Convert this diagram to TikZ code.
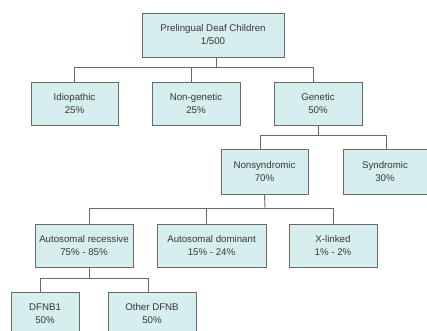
\documentclass[tikz,border=0pt]{standalone}
\usepackage{fontspec}
\setmainfont{Liberation Sans}
\definecolor{boxfill}{RGB}{214,238,238}
\definecolor{boxline}{RGB}{105,105,105}
\definecolor{txt}{RGB}{55,55,55}
\begin{document}
\begin{tikzpicture}[x=1pt,y=-1pt,
  box/.style={draw=boxline, line width=0.9pt, fill=boxfill, inner sep=0pt, align=center,
    text=txt, font=\fontsize{9.7}{13}\selectfont, minimum height=43pt},
  conn/.style={draw=boxline, line width=0.9pt}]
\useasboundingbox (0,0) rectangle (427,330);
\clip (0,0) rectangle (427,330);
% nodes
\node[box, minimum width=142pt, minimum height=44pt] (top) at (213,35) {Prelingual Deaf Children\\1/500};
\node[box, minimum width=87pt] (idio) at (74.5,103.5) {Idiopathic\\25\%};
\node[box, minimum width=88pt] (nongen) at (196,103.5) {Non-genetic\\25\%};
\node[box, minimum width=88pt] (gen) at (318,103.5) {Genetic\\50\%};
\node[box, minimum width=87pt, minimum height=45pt] (nonsyn) at (264.5,171.5) {Nonsyndromic\\70\%};
\node[box, minimum width=84pt, minimum height=45pt] (syn) at (385,171.5) {Syndromic\\30\%};
\node[box, minimum width=98pt] (ar) at (84,245.5) {Autosomal recessive\\75\% - 85\%};
\node[box, minimum width=109pt] (ad) at (211.5,245.5) {Autosomal dominant\\15\% - 24\%};
\node[box, minimum width=88pt] (xl) at (333,245.5) {X-linked\\1\% - 2\%};
\node[box, minimum width=68pt] (dfnb1) at (45,313.5) {DFNB1\\50\%};
\node[box, minimum width=88pt] (other) at (152,313.5) {Other DFNB\\50\%};
% junctions
\coordinate (j1) at (216,67);
\coordinate (j2) at (318,135);
\coordinate (j3) at (265,208);
\coordinate (j4) at (89,278);
% connectors
\draw[conn] ([xshift=3pt]top.south) -- (j1);
\draw[conn] (idio.north) |- (j1);
\draw[conn] ([xshift=-5pt]nongen.north) -- ([xshift=-5pt]nongen.north |- j1);
\draw[conn] ([xshift=-5pt]gen.north) |- (j1);
\draw[conn] (gen.south) -- (j2);
\draw[conn] ([xshift=-4.5pt]nonsyn.north) |- (j2);
\draw[conn] ([xshift=1.5pt]syn.north) |- (j2);
\draw[conn] (nonsyn.south) -- (j3);
\draw[conn] ([xshift=5pt]ar.north) |- (j3);
\draw[conn] ([xshift=-5.5pt]ad.north) -- ([xshift=-5.5pt]ad.north |- j3);
\draw[conn] (xl.north) |- (j3);
\draw[conn] ([xshift=5pt]ar.south) -- (j4);
\draw[conn] ([xshift=-5pt]dfnb1.north) |- (j4);
\draw[conn] ([xshift=-4pt]other.north) |- (j4);
\end{tikzpicture}
\end{document}
